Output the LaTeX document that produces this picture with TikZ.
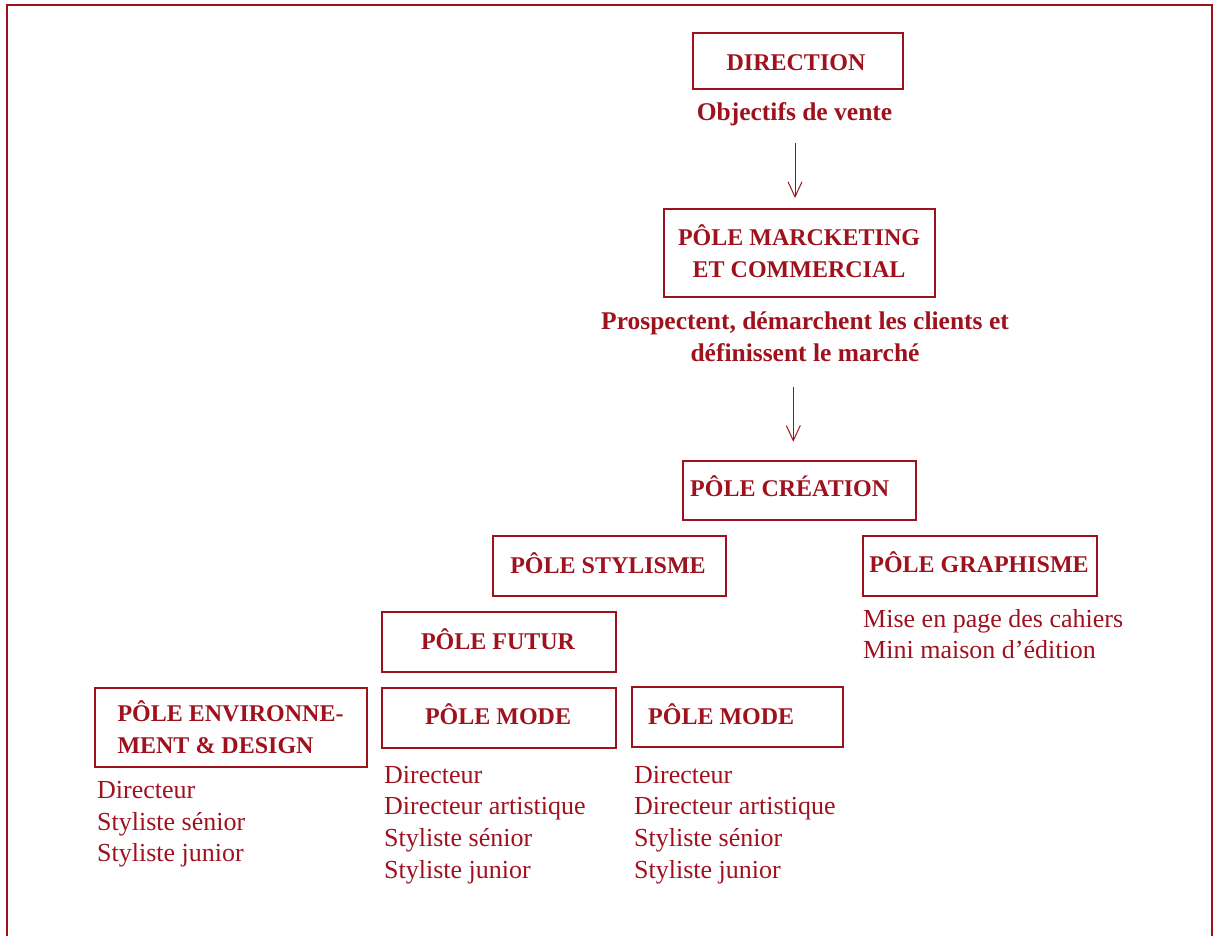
\documentclass[tikz,border=0pt]{standalone}
\usepackage{fontspec}
\setmainfont{Liberation Serif}
\usetikzlibrary{arrows.meta}
\definecolor{rouge}{RGB}{158,18,30}
\begin{document}
\begin{tikzpicture}[x=1pt,y=-1pt,
  box/.style={draw=rouge, line width=1.3pt, inner sep=0pt},
  ttl/.style={text=rouge, font=\fontsize{24}{32}\selectfont\bfseries, inner sep=0pt},
  lbl/.style={text=rouge, font=\fontsize{25.5}{32.4}\selectfont\bfseries, inner sep=0pt, align=center},
  lst/.style={text=rouge, font=\fontsize{26}{31.7}\selectfont, inner sep=0pt, align=left},
  arr/.style={draw=rouge, line width=1pt, -{Straight Barb[length=15pt,width=14pt]}}]
\useasboundingbox (0,0) rectangle (1220,935);
\draw[rouge, line width=2pt] (7,940) -- (7,5) -- (1212,5) -- (1212,940);

% boxes
\node[box, minimum width=210pt, minimum height=56pt] (dir) at (798,61) {};
\node[box, minimum width=271pt, minimum height=88pt] (mkt) at (799.5,253) {};
\node[box, minimum width=233pt, minimum height=59pt] (cre) at (799.5,490.5) {};
\node[box, minimum width=233pt, minimum height=60pt] (sty) at (609.5,566) {};
\node[box, minimum width=234pt, minimum height=60pt] (gra) at (980,566) {};
\node[box, minimum width=234pt, minimum height=60pt] (fut) at (499,642) {};
\node[box, minimum width=234pt, minimum height=60pt] (modA) at (499,718) {};
\node[box, minimum width=211pt, minimum height=60pt] (modB) at (737.5,717) {};
\node[box, minimum width=272pt, minimum height=79pt] (env) at (231,727.5) {};

% titles
\node[ttl, anchor=base] (tdir) at (796,70.7) {DIRECTION};
\node[ttl, anchor=base] (tmkt1) at (799,245.7) {PÔLE MARCKETING};
\node[ttl, anchor=base] (tmkt2) at (799,277.7) {ET COMMERCIAL};
\node[ttl, anchor=base west] (tcre) at (690,496.7) {PÔLE CRÉATION};
\node[ttl, anchor=base] (tsty) at (608,573.3) {PÔLE STYLISME};
\node[ttl, anchor=base] (tgra) at (979,572.3) {PÔLE GRAPHISME};
\node[ttl, anchor=base] (tfut) at (498,649) {PÔLE FUTUR};
\node[ttl, anchor=base] (tmodA) at (498,724) {PÔLE MODE};
\node[ttl, anchor=base west] (tmodB) at (648,724) {PÔLE MODE};
\node[ttl, anchor=base west] (tenv1) at (117.3,721.7) {PÔLE ENVIRONNE-};
\node[ttl, anchor=base west] (tenv2) at (117.3,753.3) {MENT \& DESIGN};

% labels
\node[lbl, anchor=base] (obj) at (794.5,120) {Objectifs de vente};
\node[lbl, anchor=base] (pro1) at (805,329.3) {Prospectent, démarchent les clients et};
\node[lbl, anchor=base] (pro2) at (805,361.7) {définissent le marché};

% lists
\node[lst, anchor=base west] (lgra1) at (863,627.3) {Mise en page des cahiers};
\node[lst, anchor=base west] (lgra2) at (863,658.3) {Mini maison d’édition};

\node[lst, anchor=base west] (lenv1) at (97,798.3) {Directeur};
\node[lst, anchor=base west] (lenv2) at (97,830) {Styliste sénior};
\node[lst, anchor=base west] (lenv3) at (97,861.7) {Styliste junior};

\node[lst, anchor=base west] (lma1) at (384,783.3) {Directeur};
\node[lst, anchor=base west] (lma2) at (384,814.3) {Directeur artistique};
\node[lst, anchor=base west] (lma3) at (384,846.7) {Styliste sénior};
\node[lst, anchor=base west] (lma4) at (384,878.3) {Styliste junior};

\node[lst, anchor=base west] (lmb1) at (634,783.3) {Directeur};
\node[lst, anchor=base west] (lmb2) at (634,814.3) {Directeur artistique};
\node[lst, anchor=base west] (lmb3) at (634,846.7) {Styliste sénior};
\node[lst, anchor=base west] (lmb4) at (634,878.3) {Styliste junior};

% arrows
\coordinate (a1s) at (795,143);
\coordinate (a1e) at (795,198);
\draw[arr] (a1s) -- (a1e);
\coordinate (a2s) at (793.3,386.7);
\coordinate (a2e) at (793.3,441.7);
\draw[arr] (a2s) -- (a2e);
\end{tikzpicture}
\end{document}
